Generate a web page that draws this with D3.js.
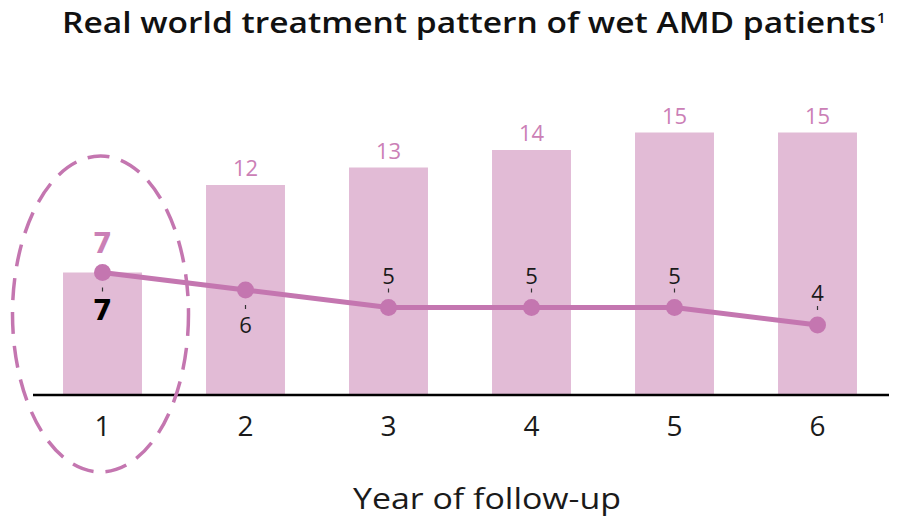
<!DOCTYPE html>
<html>
<head>
<meta charset="utf-8">
<script src="https://cdn.jsdelivr.net/npm/d3@7"></script>
<style>
  html, body { margin: 0; padding: 0; background: #fff; }
  svg { display: block; font-family: "Open Sans", "Noto Sans", sans-serif; }
</style>
</head>
<body>
<svg id="chart" width="904" height="523"></svg>
<script>
// Years of follow-up (x categories)
const years = ["1", "2", "3", "4", "5", "6"];
// Cumulative injections per year of follow-up (bars)
const cumulativeInjections = [7, 12, 13, 14, 15, 15];
// Injections within each year (line)
const yearlyInjections = [7, 6, 5, 5, 5, 4];

const titleText = "Real world treatment pattern of wet AMD patients";
const titleRef = "1";
const xAxisTitle = "Year of follow-up";

const barColor = "#e2bbd6";
const lineColor = "#c476b0";
const labelPink = "#cb80b6";
const ink = "#1a1a1a";
const boldFont = "'DejaVu Sans', sans-serif";

const svg = d3.select("#chart");

const x = d3.scaleBand()
  .domain(years)
  .range([31, 889])
  .paddingInner(0.448)
  .paddingOuter(0.224);

const y = d3.scaleLinear()
  .domain([0, 20])
  .range([395, 45]);

// Title, stretched to span the full header width
const title = svg.append("text")
  .attr("x", 62)
  .attr("y", 33)
  .attr("font-size", 28)
  .attr("font-weight", 600)
  .attr("fill", "#111");
title.append("tspan").text(titleText)
  .attr("textLength", 814)
  .attr("lengthAdjust", "spacingAndGlyphs");
title.append("tspan").text(titleRef)
  .attr("font-size", 15)
  .attr("dy", -10)
  .attr("dx", 1);

// Bars
svg.append("g").selectAll("rect")
  .data(cumulativeInjections)
  .join("rect")
  .attr("x", (d, i) => x(years[i]))
  .attr("y", d => y(d))
  .attr("width", x.bandwidth())
  .attr("height", d => y(0) - y(d))
  .attr("fill", barColor);

// Bar value labels
svg.append("g").selectAll("text")
  .data(cumulativeInjections)
  .join("text")
  .attr("x", (d, i) => x(years[i]) + x.bandwidth() / 2)
  .attr("y", (d, i) => i === 0 ? y(d) - 20 : y(d) - 9)
  .attr("text-anchor", "middle")
  .attr("font-size", (d, i) => i === 0 ? 28 : 22)
  .attr("font-weight", (d, i) => i === 0 ? 700 : 400)
  .attr("font-family", (d, i) => i === 0 ? boldFont : null)
  .attr("fill", labelPink)
  .text(d => d);

// X axis
const xAxis = svg.append("g")
  .attr("transform", `translate(0,${y(0)})`)
  .call(d3.axisBottom(x).tickSize(0).tickPadding(21));
xAxis.select(".domain")
  .attr("d", "M33,0H889")
  .attr("stroke", "#000")
  .attr("stroke-width", 2.5);
xAxis.selectAll(".tick text")
  .attr("font-size", 28)
  .attr("font-family", "'Open Sans', sans-serif")
  .attr("fill", ink)
  .attr("dy", "0.71em");

svg.append("text")
  .attr("x", 487)
  .attr("y", 509)
  .attr("text-anchor", "middle")
  .attr("font-size", 29)
  .attr("fill", ink)
  .attr("textLength", 268)
  .attr("lengthAdjust", "spacingAndGlyphs")
  .text(xAxisTitle);

// Line of yearly injections
const cx = (d, i) => x(years[i]) + x.bandwidth() / 2;
const line = d3.line().x(cx).y(d => y(d));
svg.append("path")
  .datum(yearlyInjections)
  .attr("d", line)
  .attr("fill", "none")
  .attr("stroke", lineColor)
  .attr("stroke-width", 5)
  .attr("stroke-linejoin", "round");

// Leader ticks and value labels for the line
const below = i => i < 2;
svg.append("g").selectAll("line")
  .data(yearlyInjections)
  .join("line")
  .attr("x1", cx).attr("x2", cx)
  .attr("y1", (d, i) => below(i) ? y(d) + 15 : y(d) - 15)
  .attr("y2", (d, i) => below(i) ? y(d) + 19 : y(d) - 19)
  .attr("stroke", "#333")
  .attr("stroke-width", 1.2);

svg.append("g").selectAll("text")
  .data(yearlyInjections)
  .join("text")
  .attr("x", cx)
  .attr("y", (d, i) => below(i) ? y(d) + (i === 0 ? 47 : 43) : y(d) - 24)
  .attr("text-anchor", "middle")
  .attr("font-size", (d, i) => i === 0 ? 28 : 22)
  .attr("font-weight", (d, i) => i === 0 ? 700 : 400)
  .attr("font-family", (d, i) => i === 0 ? boldFont : null)
  .attr("fill", (d, i) => i === 0 ? "#000" : ink)
  .text(d => d);

svg.append("g").selectAll("circle")
  .data(yearlyInjections)
  .join("circle")
  .attr("cx", cx)
  .attr("cy", d => y(d))
  .attr("r", 8.5)
  .attr("fill", lineColor);

// Dashed ellipse highlighting the first year
svg.append("ellipse")
  .attr("cx", x(years[0]) + x.bandwidth() / 2 - 2)
  .attr("cy", 314)
  .attr("rx", 88)
  .attr("ry", 158)
  .attr("fill", "none")
  .attr("stroke", lineColor)
  .attr("stroke-width", 3.5)
  .attr("stroke-dasharray", "22,12");
</script>
</body>
</html>
